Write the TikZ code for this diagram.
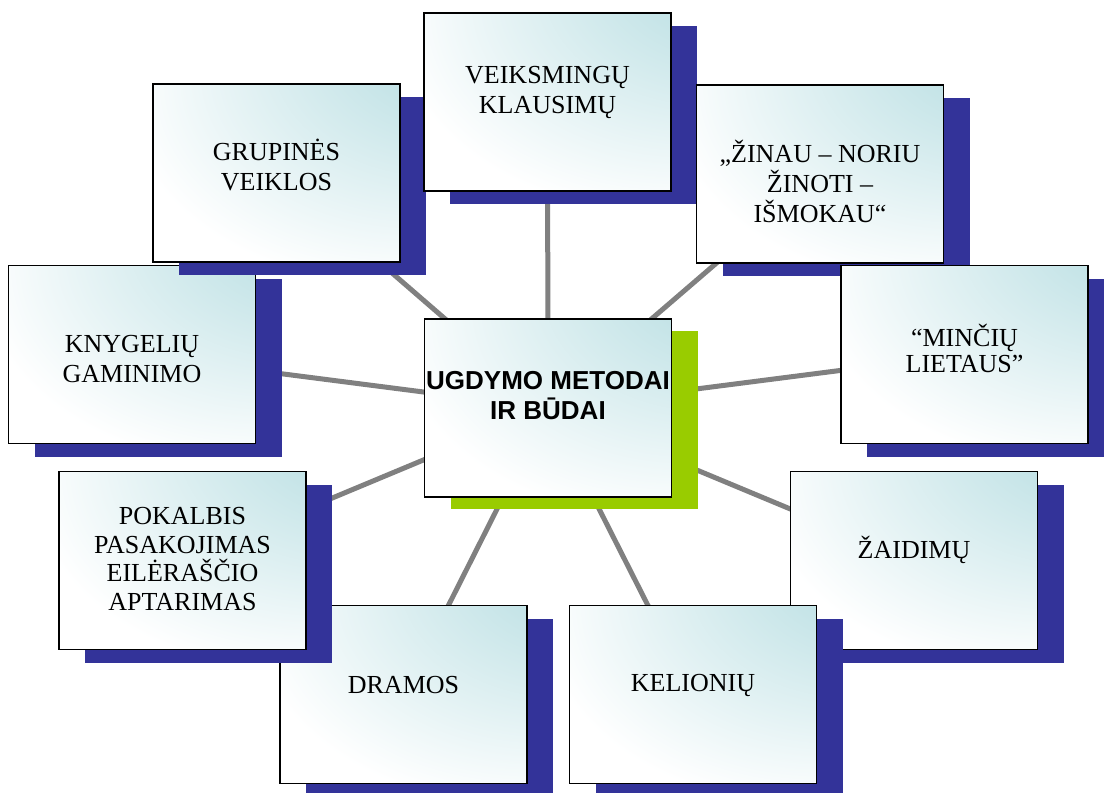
\documentclass[tikz,border=0pt]{standalone}
\usepackage{fontspec}
\setmainfont{Liberation Serif}
\newfontfamily\hubfont{Liberation Sans}
\usetikzlibrary{calc, shadows, backgrounds}

\definecolor{shadowblue}{RGB}{51,51,153}
\definecolor{shadowgreen}{RGB}{153,204,0}
\definecolor{boxcyan}{RGB}{184,222,226}
\definecolor{linkgray}{RGB}{128,128,128}

\pgfdeclareradialshading{boxglow}{\pgfpoint{50bp}{50bp}}{color(0bp)=(boxcyan); color(14bp)=(boxcyan); color(54bp)=(white); color(100bp)=(white)}

\tikzset{
  boxbase/.style={draw=black, line width=1.3pt, shading=boxglow, minimum width=185.25pt, minimum height=133.5pt, inner sep=0pt},
  methodbox/.style={boxbase, drop shadow={shadow xshift=19.5pt, shadow yshift=-9.75pt, opacity=1, fill=shadowblue}},
  hubbox/.style={boxbase, drop shadow={shadow xshift=19.5pt, shadow yshift=-9pt, opacity=1, fill=shadowgreen}},
  boxtext/.style={font=\fontsize{19.5}{22.5}\selectfont, align=center, inner sep=0pt},
  hubtext/.style={font=\hubfont\bfseries\fontsize{19.5}{22.5}\selectfont, align=center, inner sep=0pt},
  link/.style={draw=linkgray, line width=3.75pt}
}

\begin{document}
\begin{tikzpicture}[x=0.75pt, y=-0.75pt]

        \useasboundingbox (0,0) rectangle (1104,793);

        % outer boxes, in the order they overlap
        \node[methodbox] (knygeliu) at (132,354.5) {};
        \node[boxtext] (knygeliu-t) at ($(knygeliu)+(0,4.5)$) {KNYGELIŲ\\GAMINIMO};

        \node[methodbox] (grupines) at (276.5,173) {};
        \node[boxtext] (grupines-t) at ($(grupines)+(0,-8.5)$) {GRUPINĖS\\VEIKLOS};

        \node[methodbox] (klausimu) at (547.5,102) {};
        \node[boxtext] (klausimu-t) at ($(klausimu)+(0,-10)$) {VEIKSMINGŲ\\KLAUSIMŲ};

        \node[methodbox] (zinau) at (820,174) {};
        \node[boxtext] (zinau-t) at ($(zinau)+(0,7)$) {„ŽINAU – NORIU\\ŽINOTI –\\IŠMOKAU“};

        \node[methodbox] (minciu) at (964.5,354.5) {};
        \node[boxtext, font=\fontsize{19.5}{19.5}\selectfont] (minciu-t) at ($(minciu)+(0,-6.5)$) {“MINČIŲ\\LIETAUS”};

        \node[methodbox] (dramos) at (403.5,694.5) {};
        \node[boxtext] (dramos-t) at ($(dramos)+(0,-9.5)$) {DRAMOS};

        \node[methodbox] (pokalbis) at (182.5,560.5) {};
        \node[boxtext, font=\fontsize{19.5}{21.4}\selectfont] (pokalbis-t) at ($(pokalbis)+(0,-1.5)$) {POKALBIS\\PASAKOJIMAS\\EILĖRAŠČIO\\APTARIMAS};

        \node[methodbox] (zaidimu) at (914,560.5) {};
        \node[boxtext] (zaidimu-t) at ($(zaidimu)+(0,-10.5)$) {ŽAIDIMŲ};

        \node[methodbox] (kelioniu) at (693,694.5) {};
        \node[boxtext] (kelioniu-t) at ($(kelioniu)+(0,-9)$) {KELIONIŲ};

        % centre box
        \node[hubbox] (centras) at (548,408) {};
        \node[hubtext] (centras-t) at ($(centras)+(0,-12.5)$) {UGDYMO METODAI\\IR BŪDAI};

        % spokes behind everything
        \begin{pgfonlayer}{background}
          \draw[link] (centras.center) -- (klausimu.center);
          \draw[link] (centras.center) -- (grupines.center);
          \draw[link] (centras.center) -- (zinau.center);
          \draw[link] (centras.center) -- (knygeliu.center);
          \draw[link] (centras.center) -- (minciu.center);
          \draw[link] (centras.center) -- (pokalbis.center);
          \draw[link] (centras.center) -- (zaidimu.center);
          \draw[link] (centras.center) -- (dramos.center);
          \draw[link] (centras.center) -- (kelioniu.center);
        \end{pgfonlayer}

    \end{tikzpicture}
\end{document}
